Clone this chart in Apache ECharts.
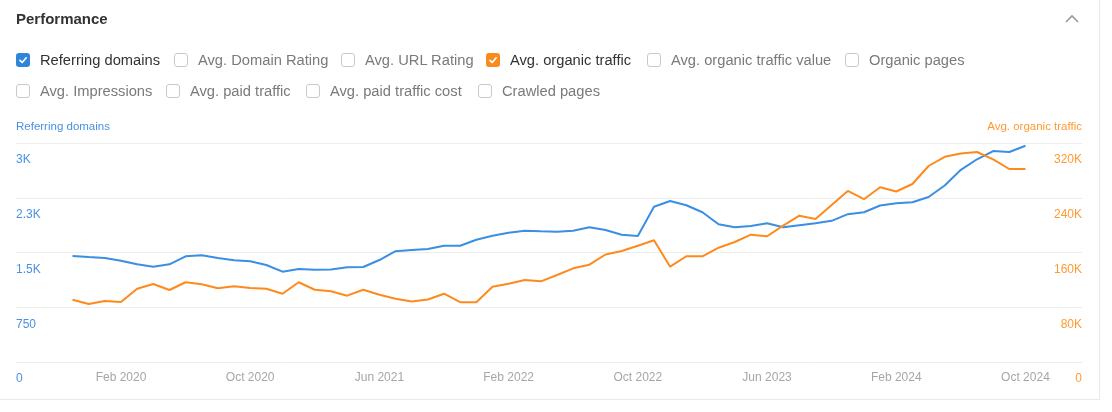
<!DOCTYPE html>
<html>
<head>
<meta charset="utf-8">
<script src="https://cdn.jsdelivr.net/npm/echarts@6/dist/echarts.min.js"></script>
<style>
  html, body { margin: 0; padding: 0; background: #fff; }
  body { width: 1112px; height: 412px; position: relative; overflow: hidden; font-family: "Liberation Sans", Arial, Helvetica, sans-serif; }
  #card { position: absolute; left: 0; top: 0; width: 1099px; height: 399px; border-right: 1px solid #e9e9e9; border-bottom: 1px solid #e9e9e9; }
  #chart { position: absolute; left: 0; top: 0; width: 1112px; height: 412px; }
  .title { position: absolute; left: 16px; top: 9px; font-size: 15px; font-weight: bold; color: #333; line-height: 20px; }
  .item { position: absolute; height: 20px; display: flex; align-items: center; font-size: 14.7px; color: #7a7a7a; white-space: nowrap; }
  .cb { width: 12px; height: 12px; border: 1px solid #c9c9c9; border-radius: 3px; margin-right: 10px; box-sizing: content-box; background: #fff; position: relative; flex: none; }
  .cb.on { border-color: transparent; }
  .cb.on svg { position: absolute; left: 0; top: 0; }
  .item.on { color: #333; }
  #chev { position: absolute; left: 1062px; top: 11px; }
</style>
</head>
<body>
<div id="chart"></div>
<div id="card"></div>
<div class="title">Performance</div>
<svg id="chev" width="20" height="16"><polyline points="4,11 10,5 16,11" fill="none" stroke="#9a9a9a" stroke-width="1.6"/></svg>
<div id="checks"></div>
<script>
// ---- data ----
const categories = [
  'Aug 2019','Sep 2019','Oct 2019','Nov 2019','Dec 2019',
  'Jan 2020','Feb 2020','Mar 2020','Apr 2020','May 2020','Jun 2020','Jul 2020','Aug 2020','Sep 2020','Oct 2020','Nov 2020','Dec 2020',
  'Jan 2021','Feb 2021','Mar 2021','Apr 2021','May 2021','Jun 2021','Jul 2021','Aug 2021','Sep 2021','Oct 2021','Nov 2021','Dec 2021',
  'Jan 2022','Feb 2022','Mar 2022','Apr 2022','May 2022','Jun 2022','Jul 2022','Aug 2022','Sep 2022','Oct 2022','Nov 2022','Dec 2022',
  'Jan 2023','Feb 2023','Mar 2023','Apr 2023','May 2023','Jun 2023','Jul 2023','Aug 2023','Sep 2023','Oct 2023','Nov 2023','Dec 2023',
  'Jan 2024','Feb 2024','Mar 2024','Apr 2024','May 2024','Jun 2024','Jul 2024','Aug 2024','Sep 2024','Oct 2024','Nov 2024','Dec 2024',
  'Jan 2025'
];
const firstDataMonth = 'Nov 2019';
const shownMonthLabels = ['Feb 2020','Oct 2020','Jun 2021','Feb 2022','Oct 2022','Jun 2023','Feb 2024','Oct 2024'];
const referringDomains = [
  1452,1438,1425,1388,1338,1306,1338,1448,1462,1425,
  1393,1380,1329,1237,1274,1265,1267,1299,1301,1397,
  1518,1534,1548,1593,1593,1674,1730,1770,1799,1790,
  1785,1799,1845,1808,1744,1726,2127,2205,2147,2051,
  1886,1845,1863,1900,1845,1874,1901,1934,2025,2051,
  2144,2174,2189,2260,2418,2633,2777,2890,2877,2962
];
const organicTraffic = [
  91000,84800,89100,87700,107100,114000,105200,116500,113500,107700,
  110600,108100,107100,99800,116500,105600,103300,96900,105500,98300,
  92500,88400,91300,99800,87400,87400,110000,114400,119800,117900,
  127100,136900,142200,157100,162200,169900,177800,139300,154500,154500,
  167000,175300,186000,183700,199200,213800,209000,229400,249900,237900,
  255400,249100,260100,286400,299800,304700,306900,296200,282000,282000
];
const leftTickLabels = ['0','750','1.5K','2.3K','3K'];
const rightTickLabels = ['0','80K','160K','240K','320K'];
const leftMax = 3000, rightMax = 320000;

const checkRow1 = [
  {label:'Referring domains', on:'#2f84db'},
  {label:'Avg. Domain Rating'},
  {label:'Avg. URL Rating'},
  {label:'Avg. organic traffic', on:'#f98a1e'},
  {label:'Avg. organic traffic value'},
  {label:'Organic pages'}
];
const checkRow2 = [
  {label:'Avg. Impressions'},
  {label:'Avg. paid traffic'},
  {label:'Avg. paid traffic cost'},
  {label:'Crawled pages'}
];

// ---- checkboxes ----
const row1X = [16,174,341,486,647,845];
const row2X = [16,166,306,478];
function buildRow(items, xs, top) {
  const host = document.getElementById('checks');
  items.forEach((it, i) => {
    const d = document.createElement('div');
    d.className = 'item' + (it.on ? ' on' : '');
    d.style.left = xs[i] + 'px';
    d.style.top = top + 'px';
    const cb = document.createElement('span');
    cb.className = 'cb' + (it.on ? ' on' : '');
    if (it.on) {
      cb.style.background = it.on;
      cb.innerHTML = '<svg width="12" height="12" viewBox="0 0 12 12"><polyline points="3,6.3 5.2,8.5 9.2,3.8" fill="none" stroke="#fff" stroke-width="1.7" stroke-linecap="round" stroke-linejoin="round"/></svg>';
    }
    const t = document.createElement('span');
    t.textContent = it.label;
    d.appendChild(cb);
    d.appendChild(t);
    host.appendChild(d);
  });
}
buildRow(checkRow1, row1X, 50);
buildRow(checkRow2, row2X, 81);

// ---- chart ----
const offset = categories.indexOf(firstDataMonth);
const pad = n => new Array(n).fill(null);
const tail = categories.length - offset - referringDomains.length;
const blueData = pad(offset).concat(referringDomains, pad(tail));
const orangeData = pad(offset).concat(organicTraffic, pad(tail));

const chart = echarts.init(document.getElementById('chart'), null, {renderer: 'canvas'});
const FONT = '"Liberation Sans", Arial, Helvetica, sans-serif';
chart.setOption({
  animation: false,
  grid: { left: 16, right: 30, top: 143, bottom: 50, containLabel: false },
  xAxis: {
    type: 'category',
    data: categories,
    boundaryGap: true,
    axisLine: { show: false },
    axisTick: { show: false },
    splitLine: { show: false },
    axisLabel: {
      interval: (idx, val) => shownMonthLabels.indexOf(val) >= 0,
      color: '#a6a6a6', fontSize: 12, fontFamily: FONT, margin: 10
    }
  },
  yAxis: [
    {
      type: 'value', min: 0, max: leftMax, interval: leftMax / 4, position: 'left',
      name: 'Referring domains', nameLocation: 'end', nameGap: 10,
      nameTextStyle: { color: '#4a90e2', fontSize: 11.5, fontFamily: FONT, align: 'left' },
      axisLine: { show: false }, axisTick: { show: false },
      splitLine: { lineStyle: { color: '#ededed', width: 1 } },
      axisLabel: {
        inside: true, margin: 0, color: '#4a90e2', fontSize: 12, fontFamily: FONT,
        verticalAlign: 'top', padding: [11,0,0,0],
        formatter: v => leftTickLabels[Math.round(v / (leftMax / 4))]
      }
    },
    {
      type: 'value', min: 0, max: rightMax, interval: rightMax / 4, position: 'right',
      name: 'Avg. organic traffic', nameLocation: 'end', nameGap: 10,
      nameTextStyle: { color: '#ff9a33', fontSize: 11.5, fontFamily: FONT, align: 'right' },
      axisLine: { show: false }, axisTick: { show: false },
      splitLine: { show: false },
      axisLabel: {
        inside: true, margin: 0, color: '#ff9a33', fontSize: 12, fontFamily: FONT,
        verticalAlign: 'top', padding: [11,0,0,0],
        formatter: v => rightTickLabels[Math.round(v / (rightMax / 4))]
      }
    }
  ],
  series: [
    {
      name: 'Referring domains', type: 'line', yAxisIndex: 0, data: blueData,
      showSymbol: false, symbol: 'none', connectNulls: false,
      lineStyle: { color: '#3a8ee3', width: 2 }, itemStyle: { color: '#3a8ee3' }
    },
    {
      name: 'Avg. organic traffic', type: 'line', yAxisIndex: 1, data: orangeData,
      showSymbol: false, symbol: 'none', connectNulls: false,
      lineStyle: { color: '#ff8a1c', width: 2 }, itemStyle: { color: '#ff8a1c' }
    }
  ]
});
</script>
</body>
</html>
